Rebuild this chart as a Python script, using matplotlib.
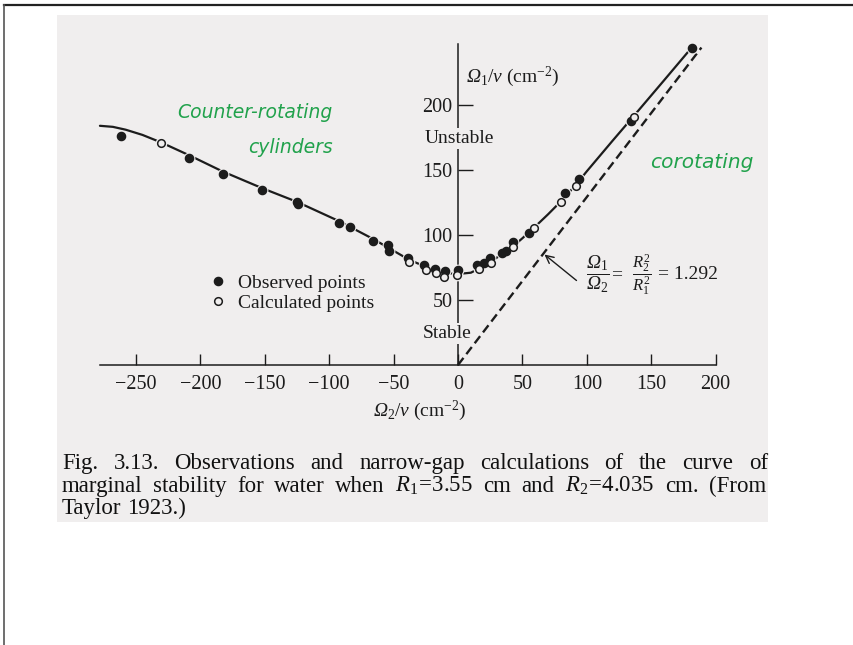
import matplotlib
matplotlib.use('Agg')
import matplotlib.pyplot as plt
from matplotlib.patches import Rectangle
from matplotlib.lines import Line2D

# ---------------- data ----------------
curve_x = [-278, -268, -258, -245, -230, -208, -183, -152, -125, -92, -66, -38, -25, -15,
           -5, 0, 10, 16, 25, 35, 42.5, 50, 59, 70, 80, 91, 100, 120, 136, 160, 183]
curve_y = [184, 183.2, 181, 177, 171, 161, 149, 136, 125.5, 110.5, 97, 81, 75.5, 72,
           70.3, 70, 71, 74, 79.5, 85.5, 91, 97.5, 105.6, 116, 126, 138, 149, 172.5, 191,
           219, 246]

obs_x = [-261.6, -208.6, -182.7, -152.4, -125.3, -124, -92.1, -83.9, -66.3, -54.1, -53.3,
         -39, -26.5, -17.9, -10, 0, 15, 20.2, 24.8, 33.9, 37.3, 43, 55.1, 83, 94.2, 134.1, 181.4]
obs_y = [176, 159, 146.7, 134.6, 125.6, 123.8, 109, 105.9, 95.6, 92, 88,
         82.5, 76.9, 74.2, 72.2, 73, 76.9, 78.2, 82, 86.4, 87.9, 94.9, 101.3, 132, 143, 188, 243.6]

calc_x = [-230.6, -37.8, -25, -17, -10.7, -0.5, 16, 25.6, 42.5, 59, 79.7, 91.4, 136.6]
calc_y = [170.5, 78.9, 73, 70.5, 68, 69, 73.6, 78.2, 91, 105.6, 125.6, 138, 191]

ratio = 1.292                 # Omega1/Omega2 = R2^2/R1^2
neutral_x = [0, 189]
x_ticks = [-250, -200, -150, -100, -50, 0, 50, 100, 150, 200]
y_ticks = [50, 100, 150, 200]

# ---------------- style ----------------
plt.rcParams['font.family'] = ['Liberation Serif', 'DejaVu Serif']
plt.rcParams['mathtext.fontset'] = 'custom'
plt.rcParams['mathtext.rm'] = 'Liberation Serif'
plt.rcParams['mathtext.it'] = 'Liberation Serif:italic'
plt.rcParams['mathtext.bf'] = 'Liberation Serif:bold'
plt.rcParams['mathtext.sf'] = 'Liberation Serif:italic'   # used for italic capital Omega

W, H = 854, 645
PAGE = '#f0eeee'
INK = '#1c1c1c'
GREEN = '#21a24c'

fig = plt.figure(figsize=(W / 100, H / 100), dpi=100)

# outer frame (top and left edges) and the scanned page
fig.add_artist(Line2D([4 / W, 1], [1 - 5 / H, 1 - 5 / H], transform=fig.transFigure,
                      color='#222222', lw=1.6))
fig.add_artist(Line2D([4 / W, 4 / W], [0, 1 - 5 / H], transform=fig.transFigure,
                      color='#555555', lw=1.2))
fig.add_artist(Rectangle((57 / W, 1 - 522 / H), (768 - 57) / W, (522 - 15) / H,
                         transform=fig.transFigure, facecolor=PAGE, edgecolor='none',
                         zorder=-5))

# axes covering the figure, scaled so the origin sits where the book has it
ax = fig.add_axes([0, 0, 1, 1])
ax.set_facecolor('none')
x0, sx = 458.0, 1.288
y0, sy = 365.0, 1.30
ax.set_xlim(-x0 / sx, (W - x0) / sx)
ax.set_ylim((y0 - H) / sy, y0 / sy)

for s in ('top', 'right'):
    ax.spines[s].set_visible(False)
ax.spines['left'].set_position(('data', 0))
ax.spines['bottom'].set_position(('data', 0))
ax.spines['left'].set_bounds(0, 247)
ax.spines['bottom'].set_bounds(-278, 200)
for s in ('left', 'bottom'):
    ax.spines[s].set_color(INK)
    ax.spines[s].set_linewidth(1.1)

ax.set_xticks(x_ticks)
ax.set_yticks(y_ticks)
ax.tick_params(axis='x', direction='in', length=8, width=1.0, pad=7,
               labelsize=14.5, colors=INK)
ax.tick_params(axis='y', direction='in', length=10.5, width=1.0, pad=4,
               labelsize=14.5, colors=INK)

# marginal stability curve, points and Rayleigh line
ax.plot(curve_x, curve_y, color=INK, lw=1.6, zorder=3, solid_capstyle='round')
ax.plot(obs_x + calc_x, obs_y + calc_y, 'o', ms=8.5, color=PAGE, mec='none',
        linestyle='none', zorder=4)
h_obs, = ax.plot(obs_x, obs_y, 'o', ms=5.9, color=INK, mec=INK, linestyle='none',
                 zorder=5, label='Observed points')
h_calc, = ax.plot(calc_x, calc_y, 'o', ms=5.5, mfc=PAGE, mec=INK, mew=1.1,
                  linestyle='none', zorder=6, label='Calculated points')
ax.plot(neutral_x, [ratio * v for v in neutral_x], color=INK, lw=1.7,
        dashes=(3.8, 2.0), zorder=2)

# axis titles and region labels
OM = r'\mathsf{\Omega}'
ax.text(6.2, 222, r'$' + OM + r'_1/\nu$ (cm$^{-2}$)', fontsize=14, color=INK,
        ha='left', va='center')
ax.text(-30, -35, r'$' + OM + r'_2/\nu$ (cm$^{-2}$)', fontsize=14, color=INK,
        ha='center', va='center')
ax.text(-26, 174, 'Unstable', fontsize=14, color=INK, ha='left', va='center',
        bbox=dict(facecolor=PAGE, edgecolor='none', pad=1.5), zorder=7)
ax.text(-27.5, 24.5, 'Stable', fontsize=14, color=INK, ha='left', va='center',
        bbox=dict(facecolor=PAGE, edgecolor='none', pad=1.5), zorder=7)

# annotation of the dashed line
ax.annotate('', xy=(66.3, ratio * 66.3), xytext=(92, 65),
            arrowprops=dict(arrowstyle='->', color=INK, lw=1.0, mutation_scale=14,
                            shrinkA=0, shrinkB=1))
ax.text(108.4, 69.5, r'$\dfrac{' + OM + r'_1}{' + OM + r'_2}$', fontsize=14,
        color=INK, ha='center', va='center')
ax.text(123.4, 69.5, '=', fontsize=14, color=INK, ha='center', va='center')
ax.text(142.5, 69.5, r'$\dfrac{R_2^2}{R_1^2}$', fontsize=12, color=INK,
        ha='center', va='center')
ax.text(155.5, 69.5, '= 1.292', fontsize=14, color=INK, ha='left', va='center')

# legend
ax.legend(handles=[h_obs, h_calc], loc='upper left', bbox_to_anchor=(212 / W, 1 - 274 / H),
          bbox_transform=fig.transFigure, frameon=False, fontsize=14, handlelength=0.6,
          handletextpad=0.73, labelspacing=0.12, borderpad=0, borderaxespad=0,
          labelcolor=INK)

# handwritten notes
hand = dict(family='DejaVu Sans', style='italic', color=GREEN, ha='center', va='center')
ax.text(-157.6, 194, 'Counter-rotating', fontsize=13.5, **hand)
ax.text(-130.4, 167, 'cylinders', fontsize=13.5, **hand)
ax.text(189.4, 156, 'corotating', fontsize=14.5, **hand)

# caption (justified like the book)
def justified_line(words, xl, xr, ybase, fs, justify=True):
    r = fig.canvas.get_renderer()
    ts = [fig.text(0, 1 - ybase / H, w, fontsize=fs, color='#111111', ha='left',
                   va='baseline') for w in words]
    widths = [t.get_window_extent(r).width for t in ts]
    if justify and len(words) > 1:
        gap = (xr - xl - sum(widths)) / (len(words) - 1)
    else:
        gap = fs * 100 / 72 * 0.25
    x = xl
    for t, wd in zip(ts, widths):
        t.set_x(x / W)
        x += wd + gap

cap_fs = 16.5
justified_line(['Fig.', '3.13.', 'Observations', 'and', 'narrow-gap', 'calculations',
                'of', 'the', 'curve', 'of'], 62, 768, 469, cap_fs)
justified_line(['marginal', 'stability', 'for', 'water', 'when', r'$R_1\!=\!3.55$', 'cm',
                'and', r'$R_2\!=\!4.035$', 'cm.', '(From'], 62, 766, 492, cap_fs)
justified_line(['Taylor', '1923.)'], 62, 170, 514, cap_fs, justify=False)

fig.savefig('out.png', dpi=100)
